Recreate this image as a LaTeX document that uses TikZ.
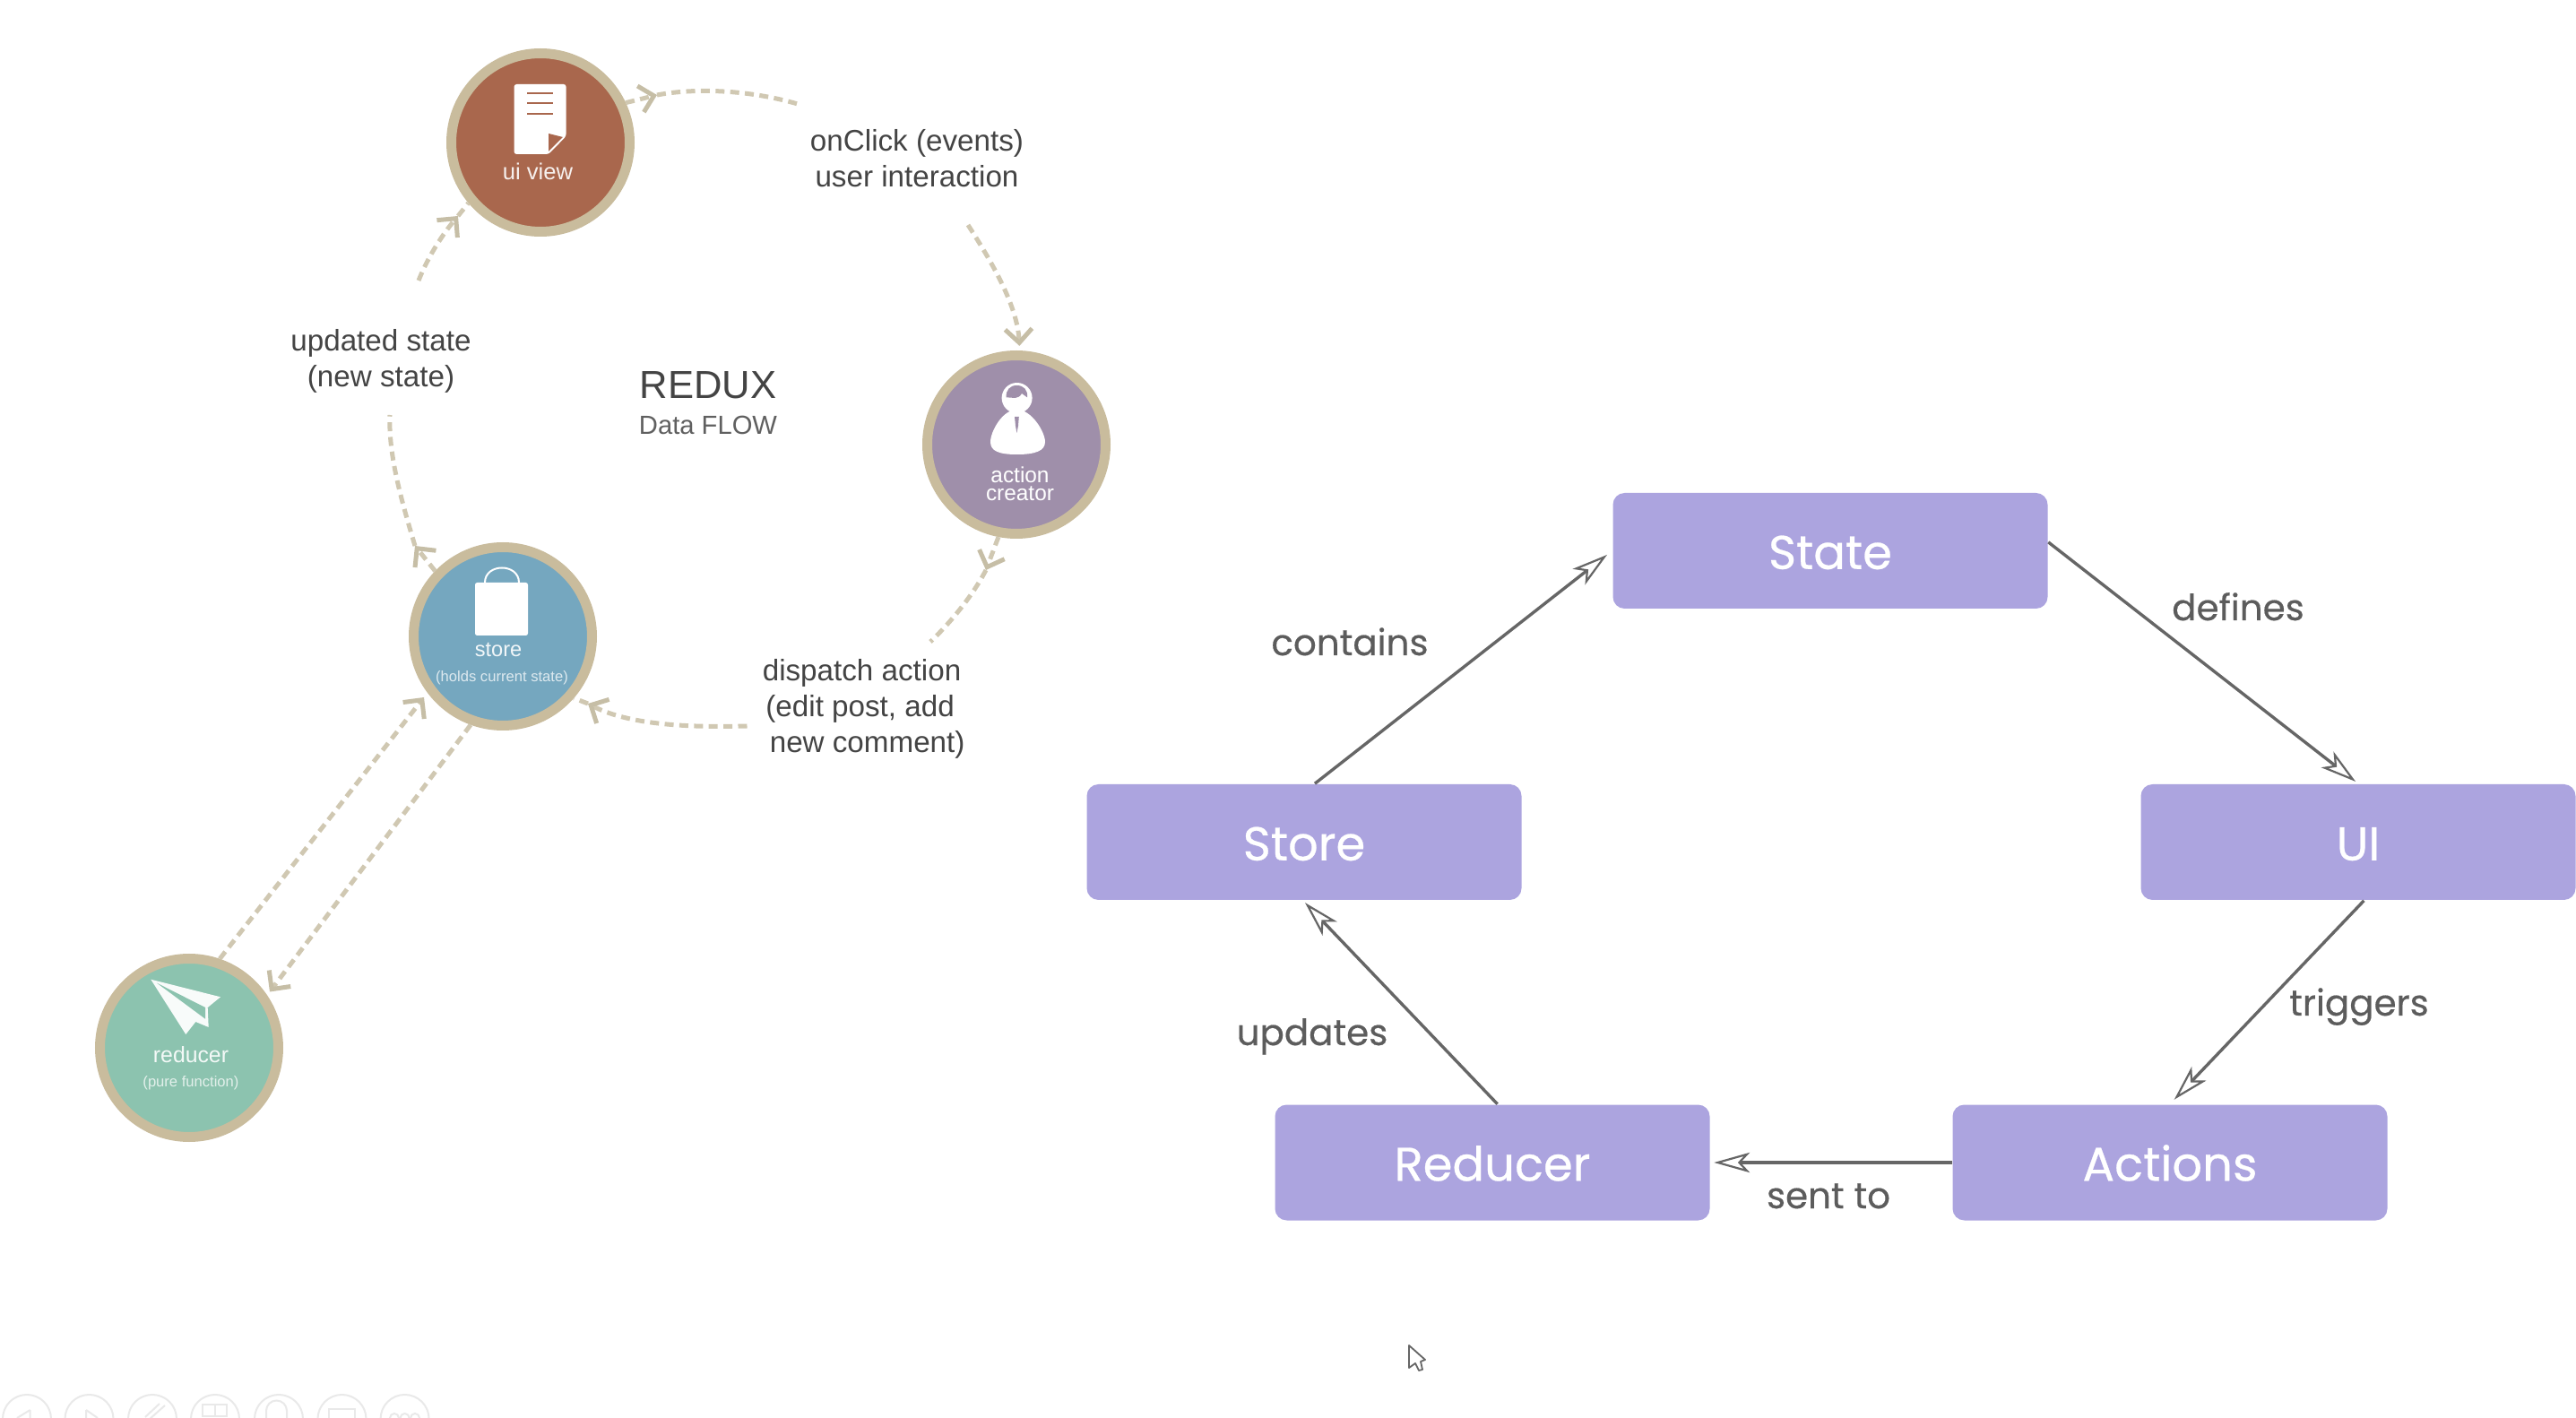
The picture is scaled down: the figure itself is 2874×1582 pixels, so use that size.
\documentclass[tikz,border=0pt]{standalone}
\usepackage{fontspec}
\setmainfont{Liberation Sans}
\newfontfamily\popfont[FakeBold=0.5]{Poppins}
\newfontfamily\poplabel[FakeBold=0.35]{Poppins}
\usetikzlibrary{arrows.meta}
\definecolor{ringc}{HTML}{C9BC9D}
\definecolor{flowc}{HTML}{D0C8B2}
\definecolor{tipc}{HTML}{C6BEA6}
\definecolor{uic}{HTML}{A9674D}
\definecolor{actc}{HTML}{9F8FAA}
\definecolor{storec}{HTML}{75A7BF}
\definecolor{redc}{HTML}{8CC3AF}
\definecolor{boxc}{HTML}{ACA4DF}
\definecolor{linec}{HTML}{666666}
\definecolor{labc}{HTML}{5C5C5C}
\definecolor{txtc}{HTML}{444444}
\definecolor{faint}{HTML}{E9E9E9}
\tikzset{
  x=0.25pt,y=-0.25pt,
  disc/.style={circle,draw=ringc,line width=2.75pt,minimum size=49.75pt,inner sep=0pt},
  cbox/.style={fill=boxc,rounded corners=3.25pt,minimum width=121.25pt,minimum height=32.25pt,inner sep=0pt,text=white,text height=11.75pt,text depth=1.6pt,font=\popfont\fontsize{13.2}{15}\selectfont},
  flow/.style={draw=flowc,line width=1.25pt,dash pattern=on 2.5pt off 1.6pt},
  flowtip/.style={flow,-{Straight Barb[length=3.8pt,width=7.5pt,line width=1.25pt,color=tipc]}},
  link/.style={draw=linec,line width=0.85pt,-{Stealth[open,length=10pt,width=5.6pt,inset=2.6pt,line width=0.55pt]}},
  edgelabel/.style={inner sep=0pt,anchor=base,text=labc,font=\poplabel\fontsize{10.1}{12}\selectfont},
  note/.style={inner sep=0pt,text=txtc,align=center,font=\fontsize{8.3}{10}\selectfont},
  inlabel/.style={inner sep=0pt,text=white,align=center,font=\fontsize{6.1}{4.9}\selectfont},
  insmall/.style={inner sep=0pt,text=white,opacity=0.75,font=\fontsize{4.15}{5}\selectfont},
  tool/.style={draw=faint,line width=0.5pt}
}
\begin{document}
\begin{tikzpicture}
\useasboundingbox (0,0) rectangle (2874,1582);
\clip (0,0) rectangle (2874,1582);
\fill[white] (0,0) rectangle (2874,1582);

% toolbar
\foreach \cx in {30,99.5,170,240,311,381.5,451.6}{\draw[tool] (\cx,1583) circle[radius=27*0.25pt];}
\draw[tool] (33.7,1573)--(19,1582) (33.7,1573)--(33.7,1590);
\draw[tool] (96,1573)--(109,1582) (96,1573)--(96,1590);
\draw[tool] (184,1568)--(166,1584) (178,1566)--(162,1581);
\draw[tool] (226,1567) rectangle (253,1580) (239.5,1567)--(239.5,1580);
\draw[tool] (297,1590)--(297,1574) arc[start angle=180,end angle=0,radius=11.5*0.25pt]--(320,1590);
\draw[tool] (367,1590)--(367,1572)--(396,1572)--(396,1590);
\foreach \cx in {440,451.6,463}{\draw[tool] (\cx,1582) circle[radius=5*0.25pt];}

% circles
\node[disc,fill=uic] (uiview) at (603,159) {};
\node[disc,fill=actc] (actor) at (1134,496) {};
\node[disc,fill=storec] (store) at (561,710) {};
\node[disc,fill=redc] (reducer) at (211,1169) {};

% ui icon
\fill[white,rounded corners=0.7pt] (573.6,94) -- (631.6,94) -- (631.6,152) -- (612,172) -- (573.6,172) -- cycle;
\fill[uic] (612,149) -- (628,153) -- (612,169) -- cycle;
\draw[uic,line width=0.55pt] (588,104)--(617,104) (588,115)--(617,115) (588,127)--(617,127);
\node[inlabel,font=\fontsize{6.4}{8}\selectfont,opacity=0.9] (uitext) at (600,191) {ui view};

% person icon
\fill[white] (1134.6,457) .. controls (1118,457) and (1105,482) .. (1105,493) .. controls (1105,503) and (1114,507) .. (1134.6,507) .. controls (1155,507) and (1166,503) .. (1166,493) .. controls (1166,482) and (1151,457) .. (1134.6,457) -- cycle;
\fill[white] (1134.6,444) circle[radius=17*0.25pt];
\fill[actc] (1122.7,443.3) .. controls (1122,435) and (1127,430) .. (1134.3,430) .. controls (1142,430) and (1147,435) .. (1146,443.3) -- (1140,439) .. controls (1138,442) and (1136,444) .. (1132.7,444) -- cycle;
\fill[actc] (1132,465) -- (1136.8,465) -- (1136,475) -- (1134.4,483) -- (1133,475) -- cycle;
\node[inlabel] (acttext) at (1138,540) {action\\creator};

% bag icon
\fill[white,rounded corners=0.6pt] (530,650) rectangle (589,709);
\draw[white,line width=0.5pt] (541,650) .. controls (541,628) and (579,628) .. (579,650);
\node[inlabel,font=\fontsize{5.9}{7}\selectfont,opacity=0.9] (storetext) at (556,725) {store};
\node[insmall] (storesmall) at (560,756) {(holds current state)};

% plane icon
\fill[white!94!redc] (168.3,1092.7) -- (246,1112.3) -- (231.7,1124) -- (232.7,1146) -- (218.3,1140) -- (207.3,1154) -- cycle;
\fill[redc] (175,1096.7) -- (229,1124) -- (229,1136.7) -- cycle;
\node[inlabel,font=\fontsize{6.2}{7}\selectfont,opacity=0.9] (redtext) at (213,1177) {reducer};
\node[insmall] (redsmall) at (213,1208) {(pure function)};

% left texts
\node[note] (onclick) at (1023,177) {onClick (events)\\user interaction};
\node[note] (updated) at (425,403) {updated state\\(new state)\hspace{3.5pt}};
\node[note,align=left,anchor=west] (dispatch) at (850,791) {dispatch action\\\hspace{0.9pt}(edit post, add\\\hspace{2pt}new comment)};
\node[inner sep=0pt,text=txtc,font=\fontsize{10.9}{12}\selectfont] (redux) at (790,430) {REDUX};
\node[inner sep=0pt,text=txtc!85,font=\fontsize{7.3}{9}\selectfont] (dataflow) at (790,474) {Data FLOW};

% dashed-flow waypoints
\coordinate (t1) at (733,106);
\coordinate (clickEnd) at (890,116);
\coordinate (clickStart) at (1080,251);
\coordinate (t3) at (1100,636);
\coordinate (dispEnd) at (1038,716);
\coordinate (dispStart) at (833.5,810);
\coordinate (t4) at (656,785);
\coordinate (t5) at (463,609);
\coordinate (updEnd) at (435,463);
\coordinate (updStart) at (467,313);
\coordinate (t6) at (511,241);
\coordinate (t7) at (473,778);
\coordinate (t8) at (301,1106.5);

\draw[flowtip] (uiview.25) -- (t1);
\draw[flow] (t1) .. controls (775,98) and (835,100) .. (clickEnd);
\draw[flowtip,shorten >=1.3pt] (clickStart) .. controls (1105,290) and (1135,340) .. (actor.88);
\draw[flowtip] (actor.-101) -- (t3);
\draw[flow] (t3) .. controls (1085,665) and (1060,695) .. (dispEnd);
\draw[flowtip] (dispStart) .. controls (765,812) and (700,808) .. (t4);
\draw[flow] (t4) -- (store.-41);
\draw[flowtip] (store.136) -- (t5);
\draw[flow] (t5) .. controls (450,565) and (433,510) .. (updEnd);
\draw[flowtip] (updStart) .. controls (478,285) and (495,260) .. (t6);
\draw[flow] (t6) -- (uiview.-140);
\draw[flowtip] (reducer.71) -- (t7);
\draw[flowtip] (store.-110) -- (t8);

% right diagram
\node[cbox] (bstate) at (2042,614.5) {State};
\node[cbox] (bstore) at (1455,939.5) {Store};
\node[cbox] (bui) at (2631,939.5) {UI};
\node[cbox] (breducer) at (1665,1297) {Reducer};
\node[cbox] (bactions) at (2421,1297) {Actions};

\draw[link,shorten >=1.8pt] ([xshift=3pt]bstore.north) -- (bstate.west);
\draw[link,shorten >=0.8pt] ([xshift=1.4pt]breducer.north) -- ([xshift=-0.3pt]bstore.south);
\draw[link,shorten >=1pt] (bactions.west) -- (breducer.east);
\draw[link,shorten >=1.7pt] ([xshift=1.6pt]bui.south) -- (bactions.north);
\draw[link,shorten >=0.9pt] ([yshift=2.4pt]bstate.east) -- (bui.north);

\node[edgelabel] (lcontains) at (1506,731) {contains};
\node[edgelabel] (lupdates) at (1464,1166) {updates};
\node[edgelabel] (lsent) at (2040,1348) {sent to};
\node[edgelabel] (ldefines) at (2497,692) {defines};
\node[edgelabel] (ltriggers) at (2632,1133) {triggers};

% cursor
\draw[fill=white,draw=linec,line width=0.45pt,line join=round] (1572,1501) -- (1590,1517) -- (1585,1519) -- (1587,1528) -- (1583,1529) -- (1579,1521) -- (1572,1526) -- cycle;
\end{tikzpicture}
\end{document}
